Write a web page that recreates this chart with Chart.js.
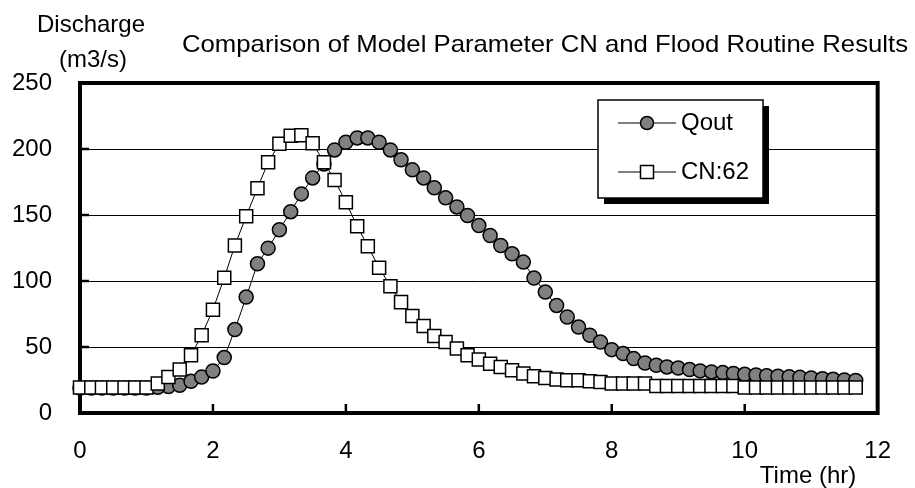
<!DOCTYPE html>
<html>
<head>
<meta charset="utf-8">
<script src="https://cdn.jsdelivr.net/npm/chart.js@4.4.0/dist/chart.umd.min.js"></script>
<style>
  html, body { margin: 0; padding: 0; background: #fff; }
  #wrap { width: 915px; height: 488px; }
</style>
</head>
<body>
<div id="wrap"><canvas id="grafico" width="915" height="488"></canvas></div>
<script>
// tiempo en horas (paso de 10 min)
const timeHr = [
  0, 0.17, 0.33, 0.5, 0.67, 0.83, 1, 1.17, 1.33, 1.5, 1.67, 1.83,
  2, 2.17, 2.33, 2.5, 2.67, 2.83, 3, 3.17, 3.33, 3.5, 3.67, 3.83,
  4, 4.17, 4.33, 4.5, 4.67, 4.83, 5, 5.17, 5.33, 5.5, 5.67, 5.83,
  6, 6.17, 6.33, 6.5, 6.67, 6.83, 7, 7.17, 7.33, 7.5, 7.67, 7.83,
  8, 8.17, 8.33, 8.5, 8.67, 8.83, 9, 9.17, 9.33, 9.5, 9.67, 9.83,
  10, 10.17, 10.33, 10.5, 10.67, 10.83, 11, 11.17, 11.33, 11.5, 11.67
];

const qout = [
  19, 19, 19, 19, 19, 19, 19, 19.5, 20, 21, 24, 27.3,
  31.8, 42, 63.2, 87.8, 113.1, 124.9, 138.8, 152.5, 166, 178.1, 188.7, 199.3,
  205.1, 208.4, 208.4, 205.1, 199.3, 191.8, 184.2, 178.1, 170.6, 163, 156.1, 149.6,
  142, 134.5, 126.9, 120.6, 114.3, 102.2, 91.6, 81.5, 72.7, 65.1, 58.9, 53.8,
  48, 45, 41.2, 37.9, 36.2, 34.9, 34.1, 32.9, 31.9, 31.1, 30.6, 29.9,
  29.3, 28.8, 28.3, 27.9, 27.5, 27, 26.5, 26, 25.5, 25, 24.6
];

const cn62 = [
  19.3, 19.3, 19.3, 19.3, 19.3, 19.3, 19.3, 22.3, 27.3, 32.9, 43.7, 58.9,
  78.3, 102.5, 126.9, 149.1, 170.3, 189.9, 203.9, 210.1, 210.5, 204.3, 190, 176.6,
  159.7, 141.5, 126.4, 110.1, 96.1, 84, 73.5, 65.9, 58.3, 53.8, 48.8, 43.7,
  40.5, 37.4, 34.9, 32.4, 29.9, 27.8, 26.6, 25.3, 24.8, 24.8, 24, 23.5,
  22.3, 22.3, 22.3, 22.3, 20.5, 20.5, 20.5, 20.5, 20.5, 20.5, 20.5, 20.5,
  19.3, 19.3, 19.3, 19.3, 19.3, 19.3, 19.3, 19.3, 19.3, 19.3, 19.3
];

const seriesNames = ['Qout', 'CN:62'];
const yTickStep = 50;
const xTickStep = 2;
const chartTitle = 'Comparison of Model Parameter CN and Flood Routine Results';
const yTitleLines = ['Discharge', '(m3/s)'];
const xTitle = 'Time (hr)';

const FUENTE = "'Liberation Sans', Arial, sans-serif";

function aPuntos(ys) {
  return ys.map((v, i) => ({ x: timeHr[i], y: v }));
}

// marco grueso y marcas interiores de los ejes
const marcoPlugin = {
  id: 'marco',
  beforeDatasetsDraw(chart) {
    const { ctx, chartArea: a, scales } = chart;
    ctx.save();
    ctx.strokeStyle = '#000';
    ctx.lineWidth = 2.5;
    scales.y.ticks.forEach(t => {
      const y = scales.y.getPixelForValue(t.value);
      ctx.beginPath();
      ctx.moveTo(a.left, y);
      ctx.lineTo(a.left + 9, y);
      ctx.stroke();
    });
    scales.x.ticks.forEach(t => {
      const x = scales.x.getPixelForValue(t.value);
      ctx.beginPath();
      ctx.moveTo(x, a.bottom);
      ctx.lineTo(x, a.bottom - 9);
      ctx.stroke();
    });
    ctx.lineWidth = 4;
    ctx.strokeRect(a.left, a.top, a.right - a.left, a.bottom - a.top);
    ctx.restore();
  }
};

// textos: titulo, titulo de ejes
const textosPlugin = {
  id: 'textos',
  afterDraw(chart) {
    const { ctx } = chart;
    ctx.save();
    ctx.fillStyle = '#000';
    ctx.textBaseline = 'alphabetic';
    ctx.font = '24px ' + FUENTE;
    // el titulo va algo estirado a lo ancho, de 182 a 908 px
    const w = ctx.measureText(chartTitle).width;
    ctx.save();
    ctx.translate(182, 52);
    ctx.scale(726 / w, 1);
    ctx.textAlign = 'left';
    ctx.fillText(chartTitle, 0, 0);
    ctx.restore();
    ctx.textAlign = 'center';
    ctx.fillText(yTitleLines[0], 91, 32);
    ctx.fillText(yTitleLines[1], 93, 67);
    ctx.fillText(xTitle, 808, 483);
    ctx.restore();
  }
};

// leyenda con sombra
const leyendaPlugin = {
  id: 'leyenda',
  afterDatasetsDraw(chart) {
    const { ctx } = chart;
    const bx = 598, by = 100, bw = 165, bh = 98;
    ctx.save();
    ctx.fillStyle = '#000';
    ctx.fillRect(bx + 6, by + 6, bw, bh);
    ctx.fillStyle = '#fff';
    ctx.fillRect(bx, by, bw, bh);
    ctx.strokeStyle = '#000';
    ctx.lineWidth = 1.5;
    ctx.strokeRect(bx, by, bw, bh);

    const filas = [123, 172];
    chart.data.datasets.forEach((ds, i) => {
      const y = filas[i];
      ctx.lineWidth = 1;
      ctx.strokeStyle = '#000';
      ctx.beginPath();
      ctx.moveTo(618, y);
      ctx.lineTo(676, y);
      ctx.stroke();
      ctx.lineWidth = ds.pointBorderWidth;
      ctx.fillStyle = ds.pointBackgroundColor;
      if (ds.pointStyle === 'circle') {
        ctx.beginPath();
        ctx.arc(647, y, 6.5, 0, Math.PI * 2);
        ctx.fill();
        ctx.stroke();
      } else {
        ctx.fillRect(640.5, y - 6.5, 13, 13);
        ctx.strokeRect(640.5, y - 6.5, 13, 13);
      }
      ctx.fillStyle = '#000';
      ctx.font = '24px ' + FUENTE;
      ctx.textAlign = 'left';
      ctx.textBaseline = 'middle';
      ctx.fillText(seriesNames[i], 681, y);
    });
    ctx.restore();
  }
};

new Chart(document.getElementById('grafico').getContext('2d'), {
  type: 'line',
  data: {
    datasets: [
      {
        label: seriesNames[0],
        data: aPuntos(qout),
        borderColor: '#000',
        borderWidth: 1,
        pointStyle: 'circle',
        pointRadius: 7,
        pointBackgroundColor: '#808080',
        pointBorderColor: '#000',
        pointBorderWidth: 1.5,
        tension: 0,
        clip: false,
        order: 2
      },
      {
        label: seriesNames[1],
        data: aPuntos(cn62),
        borderColor: '#000',
        borderWidth: 1,
        pointStyle: 'rect',
        pointRadius: 9.2,
        pointBackgroundColor: '#fff',
        pointBorderColor: '#000',
        pointBorderWidth: 1.5,
        tension: 0,
        clip: false,
        order: 1
      }
    ]
  },
  options: {
    responsive: false,
    animation: false,
    layout: { padding: { left: 0, top: 83, right: 37, bottom: 0 } },
    scales: {
      x: {
        type: 'linear',
        min: 0,
        max: 12,
        afterFit: s => { s.height = 75; },
        ticks: { stepSize: xTickStep, color: '#000', padding: 24, font: { size: 24, family: FUENTE } },
        grid: { display: false, drawTicks: false },
        border: { display: false }
      },
      y: {
        min: 0,
        max: 250,
        afterFit: s => { s.width = 80; },
        ticks: { stepSize: yTickStep, color: '#000', padding: 28, font: { size: 24, family: FUENTE } },
        grid: { color: '#000', lineWidth: 1, drawTicks: false },
        border: { display: false }
      }
    },
    plugins: {
      legend: { display: false },
      tooltip: { enabled: false }
    }
  },
  plugins: [marcoPlugin, textosPlugin, leyendaPlugin]
});
</script>
</body>
</html>
